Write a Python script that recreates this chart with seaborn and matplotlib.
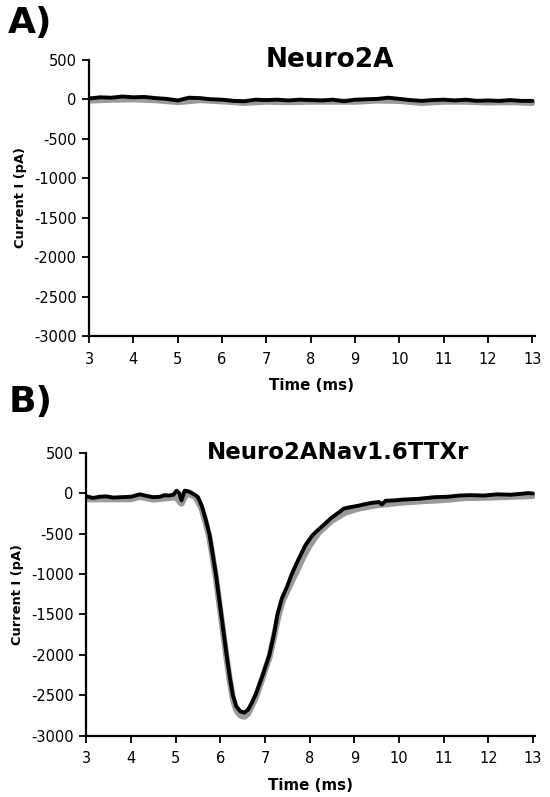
import numpy as np
import pandas as pd
import matplotlib
matplotlib.use("Agg")
import matplotlib.pyplot as plt
import seaborn as sns

# ---- Panel A: Neuro2A ----
a_time = [3.0, 3.25, 3.5, 3.75, 4.0, 4.25, 4.5, 4.75, 5.0, 5.25, 5.5, 5.75, 6.0, 6.25,
          6.5, 6.75, 7.0, 7.25, 7.5, 7.75, 8.0, 8.25, 8.5, 8.75, 9.0, 9.25, 9.5, 9.75,
          10.0, 10.25, 10.5, 10.75, 11.0, 11.25, 11.5, 11.75, 12.0, 12.25, 12.5, 12.75, 13.0]
a_black = [10, 25, 20, 35, 25, 30, 15, 5, -15, 20, 15, 0, -5, -20,
           -25, -5, -10, -5, -15, -5, -10, -15, -5, -25, -5, 0, 5, 20,
           5, -10, -20, -10, -5, -15, -5, -20, -15, -20, -10, -20, -20]
a_gray_time = [3.0, 3.5, 4.0, 4.5, 5.0, 5.5, 6.0, 6.5, 7.0, 7.5, 8.0, 8.5, 9.0, 9.5,
               10.0, 10.5, 11.0, 11.5, 12.0, 12.5, 13.0]
a_gray = [-15, -5, 0, -10, -35, -10, -25, -45, -30, -35, -30, -30, -30, -15,
          -20, -45, -30, -30, -40, -35, -45]

# ---- Panel B: Neuro2ANav1.6TTXr ----
b_time = [3.0, 3.15, 3.3, 3.45, 3.6, 3.8, 4.0, 4.2, 4.35, 4.5, 4.65, 4.75, 4.85, 4.95,
          5.02, 5.08, 5.13, 5.2, 5.3, 5.4, 5.5, 5.58, 5.67, 5.76, 5.83, 5.9, 5.96, 6.02,
          6.08, 6.14, 6.21, 6.28, 6.36, 6.45, 6.54, 6.62, 6.7, 6.8, 6.95, 7.1, 7.2, 7.28,
          7.38, 7.5, 7.6, 7.75, 7.9, 8.05, 8.14, 8.3, 8.5, 8.65, 8.77, 8.95, 9.1, 9.25,
          9.4, 9.55, 9.62, 9.7, 9.9, 10.1, 10.45, 10.8, 11.1, 11.35, 11.6, 11.9, 12.2,
          12.5, 12.8, 12.9, 13.0]
b_black = [-40, -60, -45, -40, -55, -50, -45, -15, -35, -50, -45, -25, -30, -20,
           30, 0, -90, 30, 20, -10, -50, -150, -320, -520, -760, -1000, -1250, -1500,
           -1750, -2000, -2270, -2500, -2640, -2700, -2715, -2680, -2600, -2480, -2250, -2000, -1750, -1500,
           -1300, -1150, -1000, -820, -650, -530, -480, -400, -300, -240, -190, -170, -155, -135,
           -120, -110, -140, -95, -90, -80, -70, -50, -45, -30, -25, -30, -15,
           -20, -5, 0, -5]
b_gray_time = [3.0, 3.5, 4.0, 4.2, 4.5, 5.0, 5.13, 5.25, 5.45, 5.58, 5.67, 5.76, 5.83,
               5.9, 5.96, 6.02, 6.08, 6.14, 6.21, 6.28, 6.36, 6.45, 6.54, 6.62, 6.7, 6.8,
               6.95, 7.1, 7.2, 7.3, 7.4, 7.55, 7.7, 7.85, 8.0, 8.2, 8.5, 8.8, 9.1, 9.5,
               10.0, 10.5, 11.0, 11.5, 12.0, 12.5, 13.0]
b_gray = [-75, -75, -75, -45, -80, -50, -130, 0, -50, -190, -360, -560, -800,
          -1040, -1290, -1540, -1790, -2040, -2310, -2540, -2690, -2750, -2765, -2730, -2640, -2520,
          -2280, -2030, -1780, -1520, -1330, -1150, -980, -800, -650, -490, -340, -240, -190, -150,
          -120, -100, -85, -60, -55, -45, -35]

titles = ["Neuro2A", "Neuro2ANav1.6TTXr"]
panel_labels = ["A)", "B)"]
x_ticks = list(range(3, 14))
y_ticks = [500, 0, -500, -1000, -1500, -2000, -2500, -3000]

sns.set_style("ticks")
plt.rcParams['font.family'] = ['DejaVu Sans']
plt.rcParams['axes.unicode_minus'] = False
plt.rcParams['text.color'] = 'black'
plt.rcParams['axes.labelcolor'] = 'black'

fig = plt.figure(figsize=(5.5, 7.97), dpi=100)
ax_a = fig.add_axes([0.162, 0.578, 0.81, 0.347])
ax_b = fig.add_axes([0.157, 0.077, 0.816, 0.355])

panels = [
    (ax_a, a_time, a_black, a_gray_time, a_gray, 0.54, 19, 8),
    (ax_b, b_time, b_black, b_gray_time, b_gray, 0.56, 16.5, 9),
]

for i, (ax, t, yb, tg, yg, tx, tsize, lpad) in enumerate(panels):
    dg = pd.DataFrame({"Time": tg, "Current": yg})
    db = pd.DataFrame({"Time": t, "Current": yb})
    sns.lineplot(data=dg, x="Time", y="Current", ax=ax, color="#9a9a9a", linewidth=4.5,
                 solid_capstyle="round")
    sns.lineplot(data=db, x="Time", y="Current", ax=ax, color="black", linewidth=2.8,
                 solid_capstyle="round")
    ax.set_xlim(3, 13.05)
    ax.set_ylim(-3000, 500)
    ax.set_xticks(x_ticks)
    ax.set_yticks(y_ticks)
    ax.tick_params(axis="both", labelsize=10.5, length=5, width=1.3, direction="out",
                   colors="black")
    ax.tick_params(axis="x", pad=6)
    ax.tick_params(axis="y", pad=4)
    for s in ["top", "right"]:
        ax.spines[s].set_visible(False)
    for s in ["left", "bottom"]:
        ax.spines[s].set_linewidth(1.6)
        ax.spines[s].set_color("black")
    ax.set_xlabel("Time (ms)", fontsize=10.8, fontweight="bold", labelpad=lpad, color="black")
    ax.set_ylabel("Current I (pA)", fontsize=9.4, fontweight="bold", labelpad=5, color="black")
    ax.text(tx, 1.0, titles[i], transform=ax.transAxes, fontsize=tsize,
            fontweight="bold", ha="center", va="center", color="black")

fig.text(0.015, 0.971, panel_labels[0], fontsize=26, fontweight="bold", va="center", ha="left",
         color="black")
fig.text(0.015, 0.496, panel_labels[1], fontsize=26, fontweight="bold", va="center", ha="left",
         color="black")

fig.savefig("out.png", dpi=100)
